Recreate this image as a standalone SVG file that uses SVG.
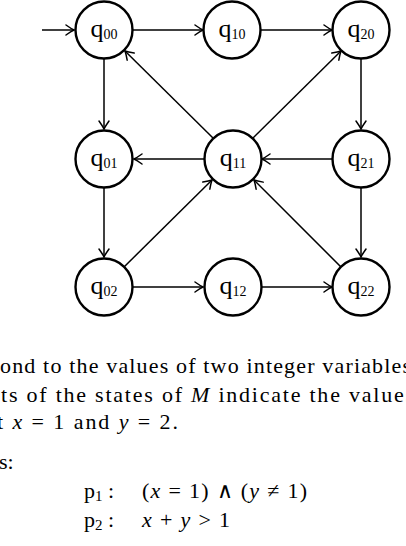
<svg xmlns="http://www.w3.org/2000/svg" width="406" height="546" viewBox="0 0 406 546">
<style>
.node circle{fill:#fff;stroke:#000;stroke-width:2.4}
.lbl{font-family:"Liberation Serif",serif;font-size:26px;fill:#000}
.sub{font-size:14px}
#edges line{stroke:#000;stroke-width:1.5;fill:none;marker-end:url(#arr)}
.txt{font-family:"Liberation Serif",serif;font-size:22px;fill:#000}
.m{font-style:italic}
</style>
<defs>
<marker id="arr" markerUnits="userSpaceOnUse" markerWidth="14" markerHeight="14" viewBox="-10 -7 12 14" refX="0" refY="0" orient="auto">
<path d="M-8,-5 Q-2.8,-1.3 0,0 Q-2.8,1.3 -8,5" fill="none" stroke="#000" stroke-width="1.5" stroke-linecap="round"/>
</marker>
</defs>
<g id="edges">
<line x1="42" y1="30" x2="74" y2="30"/>
<line x1="132" y1="30" x2="203" y2="30"/>
<line x1="261" y1="30" x2="332" y2="30"/>
<line x1="104" y1="59" x2="104" y2="129"/>
<line x1="361" y1="59" x2="361" y2="129"/>
<line x1="332" y1="159" x2="262" y2="159"/>
<line x1="204" y1="159" x2="134" y2="159"/>
<line x1="213" y1="138" x2="125" y2="51"/>
<line x1="253" y1="138" x2="341" y2="51"/>
<line x1="104" y1="188" x2="104" y2="257"/>
<line x1="361" y1="188" x2="361" y2="257"/>
<line x1="124" y1="267" x2="212" y2="180"/>
<line x1="341" y1="267" x2="254" y2="180"/>
<line x1="133" y1="287" x2="203" y2="287"/>
<line x1="262" y1="287" x2="332" y2="287"/>
</g>
<g id="q00" class="node"><circle cx="104" cy="30" r="28.5"/><text class="lbl" x="104" y="37" text-anchor="middle">q<tspan class="sub" dy="2">00</tspan></text></g>
<g id="q10" class="node"><circle cx="232" cy="30" r="28.5"/><text class="lbl" x="232" y="37" text-anchor="middle">q<tspan class="sub" dy="2">10</tspan></text></g>
<g id="q20" class="node"><circle cx="361" cy="30" r="28.5"/><text class="lbl" x="361" y="37" text-anchor="middle">q<tspan class="sub" dy="2">20</tspan></text></g>
<g id="q01" class="node"><circle cx="104" cy="159" r="28.5"/><text class="lbl" x="104" y="166" text-anchor="middle">q<tspan class="sub" dy="2">01</tspan></text></g>
<g id="q11" class="node"><circle cx="233" cy="159" r="28.5"/><text class="lbl" x="233" y="166" text-anchor="middle">q<tspan class="sub" dy="2">11</tspan></text></g>
<g id="q21" class="node"><circle cx="361" cy="159" r="28.5"/><text class="lbl" x="361" y="166" text-anchor="middle">q<tspan class="sub" dy="2">21</tspan></text></g>
<g id="q02" class="node"><circle cx="104" cy="287" r="28.5"/><text class="lbl" x="104" y="294" text-anchor="middle">q<tspan class="sub" dy="2">02</tspan></text></g>
<g id="q12" class="node"><circle cx="233" cy="287" r="28.5"/><text class="lbl" x="233" y="294" text-anchor="middle">q<tspan class="sub" dy="2">12</tspan></text></g>
<g id="q22" class="node"><circle cx="361" cy="287" r="28.5"/><text class="lbl" x="361" y="294" text-anchor="middle">q<tspan class="sub" dy="2">22</tspan></text></g>
<g id="text">
<text class="txt" x="0" y="373" textLength="411" lengthAdjust="spacing">ond to the values of two integer variables</text>
<text class="txt" x="1" y="402" textLength="413" lengthAdjust="spacing">ts of the states of <tspan class="m">M</tspan> indicate the values</text>
<text class="txt" x="-3" y="429" textLength="181" lengthAdjust="spacing">t <tspan class="m">x</tspan> = 1 and <tspan class="m">y</tspan> = 2.</text>
<text class="txt" x="-1" y="469">s:</text>
<text class="txt" x="84" y="498">p<tspan font-size="15" dy="3">1</tspan><tspan dy="-3"> :</tspan></text>
<text class="txt" x="142" y="498" textLength="165" lengthAdjust="spacing">(<tspan class="m">x</tspan> = 1) ∧ (<tspan class="m">y</tspan> ≠ 1)</text>
<text class="txt" x="84" y="527">p<tspan font-size="15" dy="3">2</tspan><tspan dy="-3"> :</tspan></text>
<text class="txt" x="142" y="527" textLength="88" lengthAdjust="spacing"><tspan class="m">x</tspan> + <tspan class="m">y</tspan> &gt; 1</text>
</g>
</svg>
